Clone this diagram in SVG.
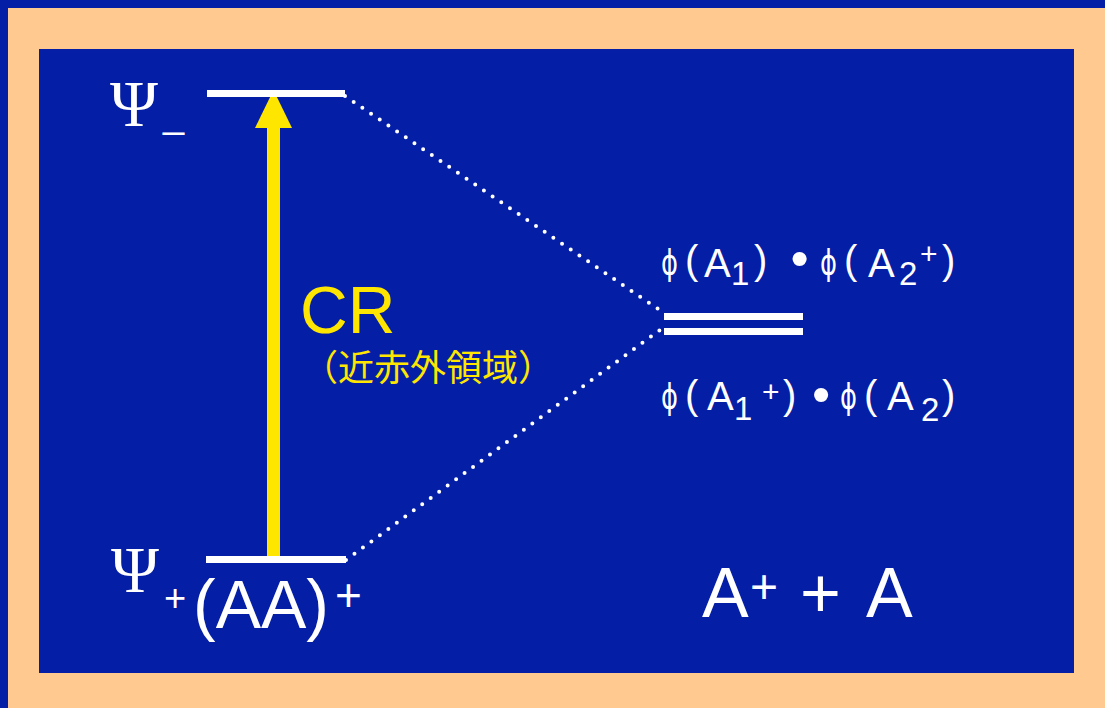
<svg xmlns="http://www.w3.org/2000/svg" width="1105" height="708" viewBox="0 0 1105 708">
<style>
.w{fill:#FFFFFF;font-family:"Liberation Sans",Arial,sans-serif}
.ser{fill:#FFFFFF;font-family:"Liberation Serif","Times New Roman",serif}
.phi{font-family:"DejaVu Sans",sans-serif;font-size:36px}
.m{font-size:40px}
.pr{font-size:40px}
.s{font-size:33px}
.p{font-size:30px}
.b{font-size:52px}
.y{fill:#FFE600;font-family:"Liberation Sans",Arial,sans-serif}
.lvl{fill:#FFFFFF}
.dot{fill:none;stroke:#FFFFFF;stroke-width:4;stroke-linecap:round;stroke-dasharray:0 10.5}
</style>
<rect x="0" y="0" width="1105" height="708" fill="#041EA6"/>
<rect x="8" y="8" width="1097" height="700" fill="#FFC990"/>
<rect x="39" y="49" width="1035" height="624" fill="#041EA6"/>

<g id="connectors">
<line class="dot" x1="345" y1="96" x2="664" y2="313"/>
<line class="dot" x1="346" y1="560" x2="664" y2="327"/>
<g id="cr-arrow">
<rect x="267" y="125" width="13" height="432" fill="#FFE600"/>
<polygon points="273.5,90 255,128 292,128" fill="#FFE600"/>
</g>
</g>

<g id="level-minus">
<rect class="lvl" x="207" y="90" width="138" height="7"/>
<text class="ser" x="110" y="126" font-size="65">Ψ</text>
<text class="w" x="163" y="127" font-size="38">_</text>
</g>

<g id="level-plus">
<rect class="lvl" x="206" y="556" width="140" height="7"/>
<text class="ser" x="111" y="592" font-size="65">Ψ</text>
<text class="w" x="164" y="611" font-size="38">+</text>
<text class="w" x="193" y="628" font-size="68">(AA)</text>
<text class="w" x="335" y="611" font-size="46">+</text>
</g>

<g id="cr-label">
<text class="y" x="300" y="333" font-size="66">CR</text>
<text class="y" x="302" y="381" font-size="36" style="font-family:'Noto Sans CJK JP',sans-serif">（近赤外領域）</text>
</g>

<g id="level-pair">
<rect class="lvl" x="664" y="313" width="139" height="7"/>
<rect class="lvl" x="664" y="328" width="139" height="7"/>
</g>

<g id="label-upper">
<text class="w m"><tspan class="phi" x="661" y="275" textLength="17" lengthAdjust="spacingAndGlyphs">ϕ</tspan><tspan class="pr" x="685" y="274">(</tspan><tspan x="704" y="277">A</tspan><tspan class="s" x="731" y="285">1</tspan><tspan class="pr" x="754" y="274">)</tspan></text>
<text class="w b" x="799.5" y="276" text-anchor="middle">•</text>
<text class="w m"><tspan class="phi" x="820" y="275" textLength="17" lengthAdjust="spacingAndGlyphs">ϕ</tspan><tspan class="pr" x="844" y="274">(</tspan><tspan x="868" y="277">A</tspan><tspan class="s" x="899" y="285">2</tspan><tspan class="p" x="920" y="263.5">+</tspan><tspan class="pr" x="942" y="274">)</tspan></text>
</g>

<g id="label-lower">
<text class="w m"><tspan class="phi" x="661" y="409" textLength="17" lengthAdjust="spacingAndGlyphs">ϕ</tspan><tspan class="pr" x="685" y="409">(</tspan><tspan x="707" y="410">A</tspan><tspan class="s" x="734" y="420">1</tspan><tspan class="p" x="762" y="401.5">+</tspan><tspan class="pr" x="783" y="409">)</tspan></text>
<text class="w b" x="821" y="412" text-anchor="middle">•</text>
<text class="w m"><tspan class="phi" x="840" y="409" textLength="17" lengthAdjust="spacingAndGlyphs">ϕ</tspan><tspan class="pr" x="864" y="409">(</tspan><tspan x="887" y="410">A</tspan><tspan class="s" x="921" y="421">2</tspan><tspan class="pr" x="942" y="409">)</tspan></text>
</g>

<g id="products">
<text class="w" x="702" y="617" font-size="70">A</text>
<text class="w" x="750" y="603" font-size="48">+</text>
<text class="w" x="800" y="617" font-size="70">+</text>
<text class="w" x="866" y="617" font-size="70">A</text>
</g>
</svg>
